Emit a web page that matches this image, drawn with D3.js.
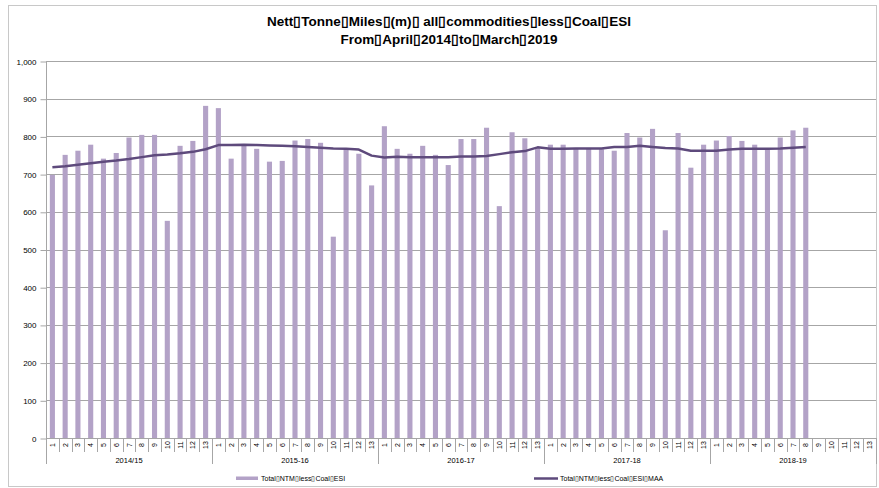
<!DOCTYPE html>
<html>
<head>
<meta charset="utf-8">
<script src="https://cdn.jsdelivr.net/npm/d3@7"></script>
<style>
  body { margin: 0; background: #fff; }
  svg { display: block; font-family: "Liberation Sans", Arial, sans-serif; }
</style>
</head>
<body>
<div id="chart"></div>
<script>
// Chart data
const years = ["2014/15", "2015-16", "2016-17", "2017-18", "2018-19"];
const periods = ["1", "2", "3", "4", "5", "6", "7", "8", "9", "10", "11", "12", "13"];

// Total NTM less Coal ESI (bars), by period
const totalNTM = [
  698, 751, 762, 778, 741, 756, 797, 804, 804, 576, 775, 788, 881,
  875, 741, 776, 767, 733, 735, 789, 793, 783, 534, 764, 754, 670,
  827, 767, 754, 775, 751, 724, 793, 793, 823, 615, 811, 795, 769,
  778, 778, 767, 768, 766, 762, 809, 797, 820, 551, 809, 717, 778,
  789, 801, 788, 778, 766, 797, 816, 823
];

// Total NTM less Coal ESI MAA (line)
const totalMAA = [
  718, 721, 725, 729, 733, 736, 740, 745, 750, 752, 755, 759, 766,
  777, 777, 778, 777, 776, 775, 774, 772, 770, 768, 767, 765, 749,
  744, 746, 745, 745, 745, 745, 747, 747, 748, 753, 758, 761, 771,
  767, 767, 768, 768, 768, 772, 772, 775, 772, 769, 768, 762, 762,
  762, 765, 767, 767, 767, 768, 770, 772
];

const yTicks = [0, 100, 200, 300, 400, 500, 600, 700, 800, 900, 1000];

const titleLines = [
  "Nett\u25AFTonne\u25AFMiles\u25AF(m)\u25AF all\u25AFcommodities\u25AFless\u25AFCoal\u25AFESI",
  "From\u25AFApril\u25AF2014\u25AFto\u25AFMarch\u25AF2019"
];
const legendNames = ["Total\u25AFNTM\u25AFless\u25AFCoal\u25AFESI", "Total\u25AFNTM\u25AFless\u25AFCoal\u25AFESI\u25AFMAA"];

const barColor = "#b3a2c7";
const lineColor = "#5e4a7c";
const gridColor = "#a6a6a6";

// Category keys: year|period
const keys = [];
years.forEach(y => periods.forEach(p => keys.push(y + "|" + p)));

const width = 879, height = 488;
const plot = { left: 46, right: 876, top: 61, bottom: 438 };

const svg = d3.select("#chart").append("svg")
  .attr("width", width)
  .attr("height", height);

// Outer chart frame
svg.append("rect")
  .attr("x", 8.5).attr("y", 5.5)
  .attr("width", 868).attr("height", 481)
  .attr("fill", "none")
  .attr("stroke", "#c8c8c8");

// Scales
const x = d3.scaleBand()
  .domain(keys)
  .range([plot.left, plot.right])
  .paddingInner(0.6)
  .paddingOuter(0.3);

const y = d3.scaleLinear()
  .domain([0, 1000])
  .range([plot.bottom, plot.top]);

// Gridlines
svg.append("g")
  .selectAll("line")
  .data(yTicks.filter(d => d > 0))
  .enter().append("line")
  .attr("x1", plot.left).attr("x2", plot.right)
  .attr("y1", d => Math.round(y(d)) + 0.5)
  .attr("y2", d => Math.round(y(d)) + 0.5)
  .attr("stroke", gridColor);

// Y axis
const yAxis = svg.append("g")
  .attr("transform", "translate(" + (plot.left + 0.5) + ",0.5)")
  .call(d3.axisLeft(y).tickValues(yTicks).tickFormat(d3.format(",")).tickSize(6).tickPadding(4));
yAxis.selectAll("path, line").attr("stroke", gridColor);
yAxis.selectAll("text").attr("font-size", 8).attr("fill", "#000");
yAxis.select(".domain").attr("d", "M0," + y(1000) + "V" + y(0));

// Bars
const barData = totalNTM.map((v, i) => ({ key: keys[i], value: v }));
svg.append("g")
  .selectAll("rect")
  .data(barData)
  .enter().append("rect")
  .attr("x", d => x(d.key))
  .attr("y", d => y(d.value))
  .attr("width", x.bandwidth())
  .attr("height", d => y(0) - y(d.value))
  .attr("fill", barColor);

// MAA line
const line = d3.line()
  .x((d, i) => x(keys[i]) + x.bandwidth() / 2)
  .y(d => y(d));
svg.append("path")
  .datum(totalMAA)
  .attr("d", line)
  .attr("fill", "none")
  .attr("stroke", lineColor)
  .attr("stroke-width", 2.5)
  .attr("stroke-linejoin", "round");

// X axis: baseline, period ticks and labels
const xg = svg.append("g");
xg.append("line")
  .attr("x1", plot.left).attr("x2", plot.right)
  .attr("y1", plot.bottom + 0.5).attr("y2", plot.bottom + 0.5)
  .attr("stroke", gridColor);

const step = x.step();
xg.selectAll(".sep")
  .data(keys)
  .enter().append("line")
  .attr("x1", (d, i) => Math.round(plot.left + (i + 1) * step) + 0.5)
  .attr("x2", (d, i) => Math.round(plot.left + (i + 1) * step) + 0.5)
  .attr("y1", plot.bottom)
  .attr("y2", plot.bottom + 14)
  .attr("stroke", gridColor);

xg.selectAll(".plab")
  .data(keys)
  .enter().append("text")
  .attr("transform", d => "translate(" + (x(d) + x.bandwidth() / 2 + 2.5) + "," + (plot.bottom + 7) + ") rotate(-90)")
  .attr("text-anchor", "middle")
  .attr("font-size", 7)
  .text(d => d.split("|")[1]);

// Year group separators and labels
xg.selectAll(".ysep")
  .data(d3.range(years.length + 1))
  .enter().append("line")
  .attr("x1", i => Math.round(plot.left + i * 13 * step) + 0.5)
  .attr("x2", i => Math.round(plot.left + i * 13 * step) + 0.5)
  .attr("y1", plot.bottom)
  .attr("y2", plot.bottom + 26)
  .attr("stroke", gridColor);

xg.selectAll(".ylab")
  .data(years)
  .enter().append("text")
  .attr("x", (d, i) => plot.left + (i * 13 + 6.5) * step)
  .attr("y", plot.bottom + 25)
  .attr("text-anchor", "middle")
  .attr("font-size", 7.5)
  .text(d => d);

// Title
svg.append("g")
  .selectAll("text")
  .data(titleLines)
  .enter().append("text")
  .attr("x", 449)
  .attr("y", (d, i) => 26 + i * 18)
  .attr("text-anchor", "middle")
  .attr("font-size", 13.5)
  .attr("font-weight", "bold")
  .text(d => d);

// Legend
const lg = svg.append("g");
lg.append("rect")
  .attr("x", 236).attr("y", 476.5)
  .attr("width", 22).attr("height", 3.5)
  .attr("fill", barColor);
lg.append("text")
  .attr("x", 261).attr("y", 481)
  .attr("font-size", 7)
  .text(legendNames[0]);
lg.append("line")
  .attr("x1", 534).attr("x2", 558)
  .attr("y1", 478.5).attr("y2", 478.5)
  .attr("stroke", lineColor)
  .attr("stroke-width", 2.5);
lg.append("text")
  .attr("x", 560).attr("y", 481)
  .attr("font-size", 7)
  .text(legendNames[1]);
</script>
</body>
</html>
